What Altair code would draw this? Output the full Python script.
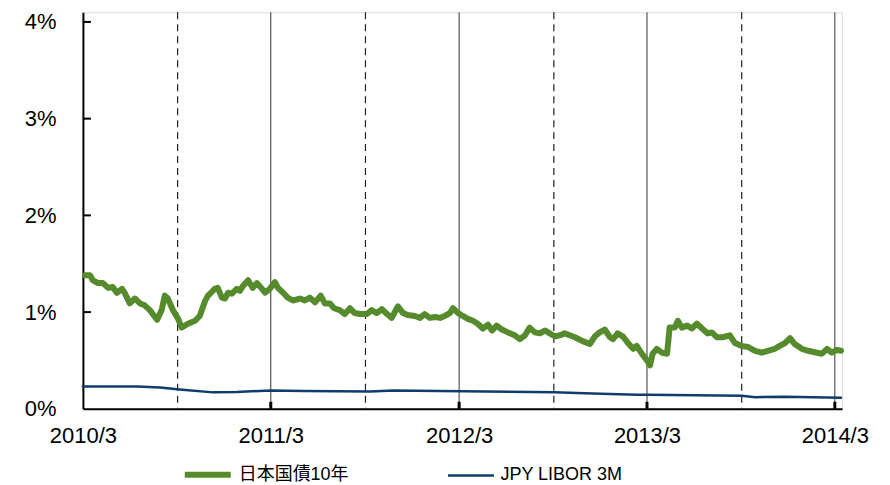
import altair as alt
import pandas as pd

# 日本国債10年 (days since 2010-03-01, value in %)
jgb_days = [4, 14, 19, 29, 39, 49, 58, 66, 76, 82, 91, 101, 111, 120, 130, 144, 153, 159, 165, 175,
            185, 192, 204, 218, 227, 237, 243, 247, 256, 262, 270, 276, 282, 289, 299, 305, 311, 321,
            330, 338, 348, 354, 363, 373, 379, 389, 398, 408, 422, 431, 441, 451, 462, 470, 480, 488,
            499, 509, 519, 528, 538, 552, 561, 571, 581, 591, 600, 612, 622, 631, 645, 655, 664, 674,
            684, 694, 703, 713, 719, 729, 738, 748, 758, 767, 777, 787, 795, 804, 814, 826, 839, 849,
            859, 868, 878, 888, 898, 907, 917, 927, 936, 946, 956, 971, 985, 995, 1004, 1014, 1024,
            1030, 1039, 1049, 1059, 1069, 1076, 1086, 1096, 1102, 1107, 1115, 1125, 1135, 1140, 1150,
            1156, 1164, 1174, 1183, 1193, 1203, 1214, 1222, 1232, 1243, 1257, 1267, 1280, 1292, 1306,
            1319, 1331, 1344, 1354, 1364, 1374, 1383, 1397, 1409, 1426, 1436, 1446, 1455, 1465, 1473]
jgb_vals = [1.38, 1.38, 1.33, 1.30, 1.30, 1.25, 1.26, 1.20, 1.24, 1.19, 1.09, 1.14, 1.09, 1.07, 1.02,
            0.92, 1.02, 1.17, 1.14, 1.02, 0.93, 0.84, 0.88, 0.91, 0.96, 1.11, 1.17, 1.19, 1.24, 1.25,
            1.15, 1.14, 1.20, 1.19, 1.24, 1.22, 1.27, 1.33, 1.25, 1.30, 1.24, 1.20, 1.24, 1.31, 1.25,
            1.20, 1.15, 1.12, 1.14, 1.12, 1.15, 1.10, 1.17, 1.09, 1.09, 1.04, 1.02, 0.98, 1.04, 0.99,
            0.98, 0.98, 1.02, 0.99, 1.03, 0.98, 0.94, 1.06, 0.99, 0.97, 0.96, 0.94, 0.98, 0.94, 0.95,
            0.94, 0.96, 0.99, 1.04, 0.99, 0.96, 0.93, 0.91, 0.88, 0.83, 0.87, 0.81, 0.86, 0.82, 0.79,
            0.76, 0.72, 0.76, 0.84, 0.79, 0.78, 0.81, 0.78, 0.75, 0.76, 0.78, 0.76, 0.74, 0.70, 0.67,
            0.75, 0.79, 0.82, 0.74, 0.72, 0.78, 0.75, 0.68, 0.62, 0.65, 0.57, 0.50, 0.45, 0.57, 0.62,
            0.58, 0.57, 0.84, 0.84, 0.91, 0.84, 0.86, 0.83, 0.88, 0.83, 0.78, 0.79, 0.74, 0.74, 0.76,
            0.68, 0.65, 0.64, 0.60, 0.58, 0.60, 0.62, 0.65, 0.68, 0.73, 0.67, 0.62, 0.60, 0.58, 0.57,
            0.62, 0.58, 0.61, 0.60]

# JPY LIBOR 3M
libor_days = [0, 105, 150, 188, 253, 299, 365, 428, 559, 602, 915, 1006, 1078, 1096, 1280, 1306, 1364, 1473]
libor_vals = [0.23, 0.23, 0.22, 0.20, 0.17, 0.175, 0.19, 0.185, 0.18, 0.19, 0.17, 0.155, 0.145, 0.145,
              0.135, 0.12, 0.125, 0.115]

series_names = ["日本国債10年", "JPY LIBOR 3M"]
series_colors = ["#558B2C", "#0F3C6C"]
series_widths = [6, 2.5]

march_lines = ["2011-03-01", "2012-03-01", "2013-03-01", "2014-03-01"]
sept_lines = ["2010-09-01", "2011-09-01", "2012-09-01", "2013-09-01"]
year_ticks = ["2011-03-01", "2012-03-01", "2013-03-01", "2014-03-01"]
y_ticks = [1, 2, 3, 4]

base = pd.Timestamp("2010-03-01")
df = pd.concat([
    pd.DataFrame({"date": [base + pd.Timedelta(days=d) for d in jgb_days], "value": jgb_vals,
                  "series": series_names[0]}),
    pd.DataFrame({"date": [base + pd.Timedelta(days=d) for d in libor_days], "value": libor_vals,
                  "series": series_names[1]}),
])

W, H = 760, 397
FONT = "Liberation Sans, Arial, Noto Sans CJK JP"

xscale = alt.Scale(domain=[alt.DateTime(year=2010, month=3, date=1),
                           alt.DateTime(year=2014, month=3, date=15)])
yscale = alt.Scale(domain=[0, 4.1], nice=False)

xaxis = alt.Axis(
    values=[alt.DateTime(year=y, month=3, date=1) for y in [2010, 2011, 2012, 2013, 2014]],
    format="%Y/%-m", title=None, grid=False, ticks=False, tickSize=0,
    labelPadding=17, labelFontSize=22, labelFont=FONT, labelColor="#000",
    domainColor="#000", domainWidth=2, labelFlush=False,
)
yaxis = alt.Axis(
    values=[0, 1, 2, 3, 4], labelExpr="datum.value + '%'", title=None, grid=False,
    ticks=False, tickSize=0, labelPadding=27, labelFontSize=22, labelFont=FONT,
    labelColor="#000", domainColor="#000", domainWidth=2,
)

lines = alt.Chart(df).mark_line(strokeJoin="round", strokeCap="round").encode(
    x=alt.X("date:T", scale=xscale, axis=xaxis),
    y=alt.Y("value:Q", scale=yscale, axis=yaxis),
    color=alt.Color("series:N", scale=alt.Scale(domain=series_names, range=series_colors),
                    legend=alt.Legend(
                        title=None, orient="none", legendX=112, legendY=450, direction="horizontal",
                        symbolType="M-2.3,0H2.3", symbolSize=400, symbolStrokeWidth=5,
                        labelFontSize=18, labelFont=FONT, labelColor="#000", labelOffset=18,
                        columnPadding=93, padding=0, labelLimit=300)),
    strokeWidth=alt.StrokeWidth("series:N", scale=alt.Scale(domain=series_names, range=series_widths),
                                legend=None),
    order=alt.Order("date:T"),
)

solid = alt.Chart(pd.DataFrame({"d": pd.to_datetime(march_lines)})).mark_rule(
    color="#333", strokeWidth=1).encode(x=alt.X("d:T", scale=xscale))
dashed = alt.Chart(pd.DataFrame({"d": pd.to_datetime(sept_lines)})).mark_rule(
    color="#222", strokeWidth=1.2, strokeDash=[7, 5]).encode(x=alt.X("d:T", scale=xscale))
xticks = alt.Chart(pd.DataFrame({"d": pd.to_datetime(year_ticks)})).mark_rule(
    color="#000", strokeWidth=3).encode(x=alt.X("d:T", scale=xscale),
                                        y=alt.value(H - 7), y2=alt.value(H))
yticks = alt.Chart(pd.DataFrame({"v": y_ticks})).mark_rule(
    color="#000", strokeWidth=2).encode(y=alt.Y("v:Q", scale=yscale),
                                        x=alt.value(0), x2=alt.value(8))

chart = alt.layer(solid, dashed, lines, xticks, yticks).properties(
    width=W, height=H,
    autosize=alt.AutoSizeParams(type="none"),
    padding={"left": 75, "top": 4, "right": 40, "bottom": 76},
).configure_view(stroke=None).configure(background="white")

chart.save("out.html", embed_options={"renderer": "svg", "actions": False})
